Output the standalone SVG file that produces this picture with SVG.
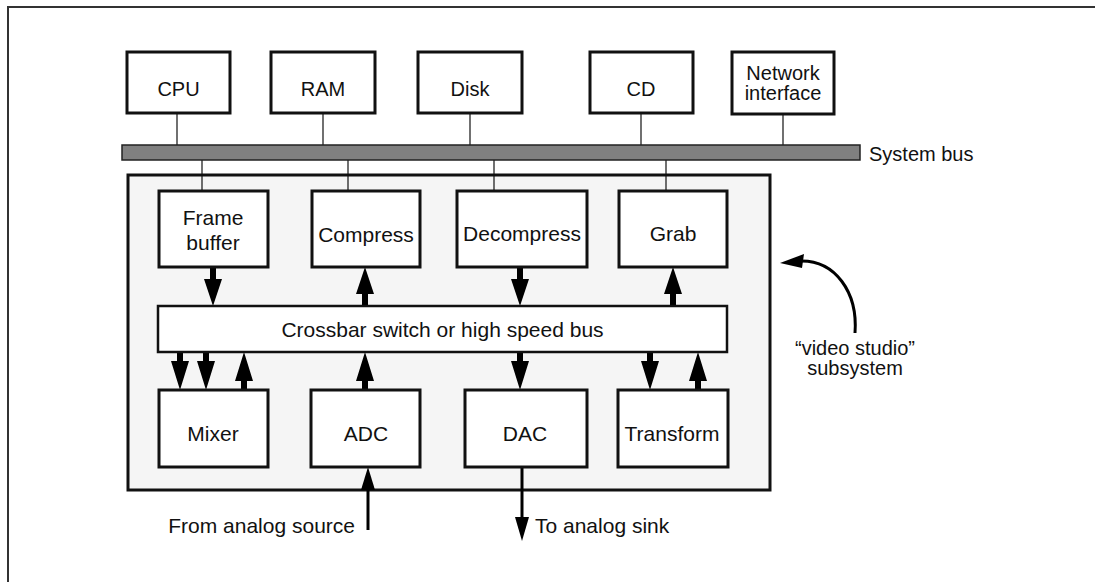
<svg xmlns="http://www.w3.org/2000/svg" width="1095" height="582" viewBox="0 0 1095 582">
<style>
text{font-family:"Liberation Sans",Arial,sans-serif;fill:#111;text-anchor:middle}
.o{font-size:20px}
.i{font-size:21px}
.box{fill:#fff;stroke:#111;stroke-width:3}
.thin{stroke:#111;stroke-width:1.2;fill:none}
</style>
<defs>
<path id="ad" d="M-3,-39 H3 V-27 H9 L0,0 L-9,-27 H-3 Z" fill="#000"/>
<path id="ad2" d="M-3,-38 H3 V-29 H9 L0,0 L-9,-29 H-3 Z" fill="#000"/>
</defs>
<path d="M8,582 V7 H1095" fill="none" stroke="#333" stroke-width="2"/>
<g id="subsystem"><rect x="128" y="175" width="642" height="315" fill="#f5f5f5" stroke="#111" stroke-width="3"/></g>
<g id="connectors">
<line class="thin" x1="177" y1="113" x2="177" y2="145"/>
<line class="thin" x1="323" y1="113" x2="323" y2="145"/>
<line class="thin" x1="470" y1="113" x2="470" y2="145"/>
<line class="thin" x1="641" y1="113" x2="641" y2="145"/>
<line class="thin" x1="783" y1="114" x2="783" y2="145"/>
<line class="thin" x1="202" y1="160" x2="202" y2="191"/>
<line class="thin" x1="348" y1="160" x2="348" y2="191"/>
<line class="thin" x1="494" y1="160" x2="494" y2="191"/>
<line class="thin" x1="666" y1="160" x2="666" y2="191"/>
<use href="#ad" transform="translate(213,306)"/>
<use href="#ad" transform="translate(365,267) rotate(180)"/>
<use href="#ad" transform="translate(520,306)"/>
<use href="#ad" transform="translate(673,267) rotate(180)"/>
<use href="#ad2" transform="translate(180,390)"/>
<use href="#ad2" transform="translate(206,390)"/>
<use href="#ad2" transform="translate(244,352) rotate(180)"/>
<use href="#ad2" transform="translate(365,352) rotate(180)"/>
<use href="#ad2" transform="translate(520,390)"/>
<use href="#ad2" transform="translate(650,390)"/>
<use href="#ad2" transform="translate(698,352) rotate(180)"/>
<line x1="368" y1="530" x2="368" y2="488" stroke="#000" stroke-width="3"/>
<path d="M368,467 L375,490 L361,490 Z" fill="#000"/>
<line x1="522" y1="467" x2="522" y2="520" stroke="#000" stroke-width="3"/>
<path d="M522,541 L515,517 L529,517 Z" fill="#000"/>
<path d="M855,333 C858,292 835,260 800,261" fill="none" stroke="#000" stroke-width="3"/>
<path d="M780,263 L804,254 L802,268 Z" fill="#000"/>
</g>
<g id="bus"><rect x="122" y="145" width="738" height="15" fill="#808080" stroke="#222" stroke-width="1.5"/><text class="o" x="869" y="161" style="text-anchor:start">System bus</text></g>
<g id="cpu"><rect class="box" x="127" y="52" width="103" height="61"/><text class="o" x="178.5" y="96">CPU</text></g>
<g id="ram"><rect class="box" x="271" y="52" width="104" height="61"/><text class="o" x="323" y="96">RAM</text></g>
<g id="disk"><rect class="box" x="418" y="52" width="104" height="61"/><text class="o" x="470" y="96">Disk</text></g>
<g id="cd"><rect class="box" x="590" y="52" width="103" height="61"/><text class="o" x="641" y="96">CD</text></g>
<g id="net"><rect class="box" x="732" y="52" width="102" height="62"/><text class="o" x="783" y="80">Network</text><text class="o" x="783" y="100">interface</text></g>
<g id="framebuffer"><rect class="box" x="159" y="191" width="109" height="76"/><text class="i" x="213" y="225">Frame</text><text class="i" x="213" y="250">buffer</text></g>
<g id="compress"><rect class="box" x="312" y="191" width="108" height="76"/><text class="i" x="366" y="242">Compress</text></g>
<g id="decompress"><rect class="box" x="457" y="191" width="130" height="76"/><text class="i" x="522" y="241">Decompress</text></g>
<g id="grab"><rect class="box" x="619" y="191" width="108" height="76"/><text class="i" x="673" y="241">Grab</text></g>
<g id="crossbar"><rect x="158" y="306" width="569" height="46" fill="#fff" stroke="#111" stroke-width="2.5"/><text class="i" x="442.5" y="337">Crossbar switch or high speed bus</text></g>
<g id="mixer"><rect class="box" x="159" y="390" width="109" height="77"/><text class="i" x="213" y="441">Mixer</text></g>
<g id="adc"><rect class="box" x="311" y="390" width="109" height="77"/><text class="i" x="366" y="441">ADC</text></g>
<g id="dac"><rect class="box" x="465" y="390" width="122" height="77"/><text class="i" x="525" y="441">DAC</text></g>
<g id="transform"><rect class="box" x="618" y="390" width="110" height="77"/><text class="i" x="672" y="441">Transform</text></g>
<g id="labels">
<text class="i" x="355" y="533" style="text-anchor:end">From analog source</text>
<text class="i" x="535" y="533" style="text-anchor:start">To analog sink</text>
<text class="o" x="855" y="355">“video studio”</text>
<text class="o" x="855" y="375">subsystem</text>
</g>
</svg>
